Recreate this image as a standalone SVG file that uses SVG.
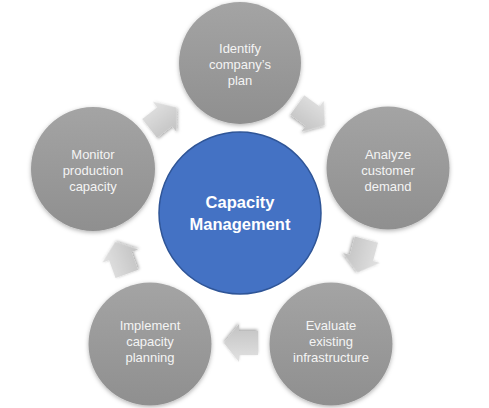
<svg xmlns="http://www.w3.org/2000/svg" width="489" height="408" viewBox="0 0 489 408">
<defs>
<linearGradient id="gGray" x1="0" y1="0" x2="0" y2="1">
<stop offset="0" stop-color="#a4a4a4"/>
<stop offset="1" stop-color="#8f8f8f"/>
</linearGradient>
<linearGradient id="gArrow" x1="0" y1="0" x2="0" y2="1">
<stop offset="0" stop-color="#e2e2e2"/>
<stop offset="1" stop-color="#c2c2c2"/>
</linearGradient>
<filter id="sh" x="-20%" y="-20%" width="140%" height="140%">
<feDropShadow dx="0" dy="1.5" stdDeviation="2" flood-color="#000" flood-opacity="0.3"/>
</filter>
<filter id="shA" x="-30%" y="-30%" width="160%" height="160%">
<feDropShadow dx="0.5" dy="1.5" stdDeviation="1.5" flood-color="#000" flood-opacity="0.35"/>
</filter>
<polygon id="arrow" points="-17,-12 2,-12 2,-19 17,0 2,19 2,12 -17,12"/>
</defs>
<style>
.step{fill:url(#gGray);filter:url(#sh);}
.core{fill:#4472c4;stroke:#2f5597;stroke-width:1.5;}
.arr{fill:url(#gArrow);filter:url(#shA);}
.t{font-family:"Liberation Sans",Arial,sans-serif;font-size:13px;fill:#f4f4f4;text-anchor:middle;}
.tc{font-family:"Liberation Sans",Arial,sans-serif;font-size:16.5px;font-weight:bold;fill:#ffffff;text-anchor:middle;}
</style>
<rect width="489" height="408" fill="#ffffff"/>
<g id="connectors">
<use href="#arrow" class="arr" transform="translate(311,115) rotate(36)"/>
<use href="#arrow" class="arr" transform="translate(362,256) rotate(105)"/>
<use href="#arrow" class="arr" transform="translate(241,343) rotate(180)"/>
<use href="#arrow" class="arr" transform="translate(121,258) rotate(250)"/>
<use href="#arrow" class="arr" transform="translate(163,118) rotate(322)"/>
</g>
<g id="identify">
<circle class="step" cx="240" cy="63" r="61"/>
<text class="t" x="240" y="53">Identify</text>
<text class="t" x="240" y="69">company’s</text>
<text class="t" x="240" y="85">plan</text>
</g>
<g id="analyze">
<circle class="step" cx="388" cy="168" r="61.5"/>
<text class="t" x="388" y="159">Analyze</text>
<text class="t" x="388" y="175">customer</text>
<text class="t" x="388" y="191">demand</text>
</g>
<g id="evaluate">
<circle class="step" cx="331" cy="344" r="61.5"/>
<text class="t" x="331" y="330">Evaluate</text>
<text class="t" x="331" y="346">existing</text>
<text class="t" x="331" y="362">infrastructure</text>
</g>
<g id="implement">
<circle class="step" cx="150" cy="344" r="61.5"/>
<text class="t" x="150" y="330">Implement</text>
<text class="t" x="150" y="346">capacity</text>
<text class="t" x="150" y="362">planning</text>
</g>
<g id="monitor">
<circle class="step" cx="93" cy="169" r="62"/>
<text class="t" x="93" y="159">Monitor</text>
<text class="t" x="93" y="175">production</text>
<text class="t" x="93" y="191">capacity</text>
</g>
<g id="center">
<circle class="core" cx="240" cy="213" r="81"/>
<text class="tc" x="240" y="208">Capacity</text>
<text class="tc" x="240" y="230">Management</text>
</g>
</svg>
